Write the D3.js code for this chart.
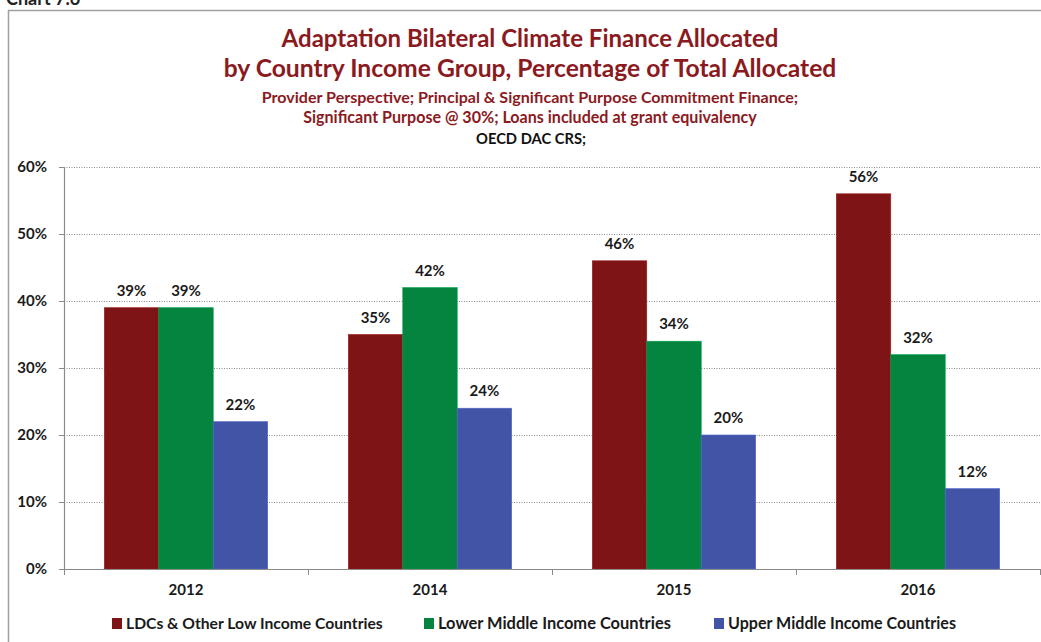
<!DOCTYPE html>
<html>
<head>
<meta charset="utf-8">
<script src="https://cdn.jsdelivr.net/npm/d3@7"></script>
<style>
  body { margin: 0; background: #fff; }
  svg { display: block; font-family: Lato, "Open Sans", sans-serif; }
</style>
</head>
<body>
<div id="chart"></div>
<script>
// Données du graphique
const years = ['2012', '2014', '2015', '2016'];
const seriesNames = ['LDCs & Other Low Income Countries', 'Lower Middle Income Countries', 'Upper Middle Income Countries'];
const ldcValues = [39, 35, 46, 56];
const lmicValues = [39, 42, 34, 32];
const umicValues = [22, 24, 20, 12];
const yTicks = [0, 10, 20, 30, 40, 50, 60];
const titleLines = [
    'Adaptation Bilateral Climate Finance Allocated',
    'by Country Income Group, Percentage of Total Allocated'
];
const subtitleLines = [
    'Provider Perspective; Principal & Significant Purpose Commitment Finance;',
    'Significant Purpose @ 30%; Loans included at grant equivalency'
];
const sourceLine = 'OECD DAC CRS;';

const colors = ['#7f1416', '#04843f', '#4254a5'];
const darkRed = '#8b1a1e';

const width = 1041, height = 642;
const margin = { top: 167, right: 1, bottom: 73, left: 64 };

const svg = d3.select('#chart').append('svg')
    .attr('width', width)
    .attr('height', height);

// Cadre extérieur
svg.append('path')
    .attr('d', `M8.5,${height} V10.5 H${width}`)
    .attr('fill', 'none')
    .attr('stroke', '#a0a0a0')
    .attr('stroke-width', 1.5);

// "Chart 7.6" coupé en haut, comme dans l'original
svg.append('text')
    .attr('x', 6).attr('y', 5)
    .attr('font-size', 18).attr('font-weight', 'bold')
    .attr('fill', '#222')
    .text('Chart 7.6');

// Fonction pour ajuster un texte à une largeur cible
function fitText(sel, target) {
    const w = sel.node().getComputedTextLength();
    const fs = parseFloat(sel.attr('font-size'));
    sel.attr('font-size', fs * target / w);
}

const cx = 530;
[[titleLines[0], 47, 497], [titleLines[1], 77, 613]].forEach(([t, y, w]) => {
    const s = svg.append('text')
        .attr('x', cx).attr('y', y)
        .attr('text-anchor', 'middle')
        .attr('font-size', 22).attr('font-weight', 'bold')
        .attr('fill', darkRed)
        .text(t);
    fitText(s, w);
});
[[subtitleLines[0], 103, 537], [subtitleLines[1], 123, 454]].forEach(([t, y, w]) => {
    const s = svg.append('text')
        .attr('x', cx).attr('y', y)
        .attr('text-anchor', 'middle')
        .attr('font-size', 13).attr('font-weight', 'bold')
        .attr('fill', darkRed)
        .text(t);
    fitText(s, w);
});
const src = svg.append('text')
    .attr('x', 531).attr('y', 144)
    .attr('text-anchor', 'middle')
    .attr('font-size', 13).attr('font-weight', 'bold')
    .attr('fill', '#111')
    .text(sourceLine);
fitText(src, 110);

// Échelles
const x0 = d3.scaleBand()
    .domain(years)
    .range([margin.left, width - margin.right])
    .padding(0);

const x1 = d3.scaleBand()
    .domain(d3.range(seriesNames.length))
    .range([0, x0.bandwidth()])
    .paddingInner(0)
    .paddingOuter(0.74);

const y = d3.scaleLinear()
    .domain([0, 60])
    .range([height - margin.bottom, margin.top]);

// Grille pointillée
svg.append('g')
    .selectAll('line')
    .data(yTicks.filter(d => d > 0))
    .enter()
    .append('line')
    .attr('x1', margin.left).attr('x2', width - margin.right)
    .attr('y1', d => Math.round(y(d)) + 0.5).attr('y2', d => Math.round(y(d)) + 0.5)
    .attr('stroke', '#8a8a8a')
    .attr('stroke-dasharray', '1,1.5');

// Barres
const table = years.map((yr, i) => ({
    year: yr,
    values: [ldcValues[i], lmicValues[i], umicValues[i]]
}));

const groups = svg.append('g')
    .selectAll('g')
    .data(table)
    .enter()
    .append('g')
    .attr('transform', d => `translate(${x0(d.year)},0)`);

groups.selectAll('rect')
    .data(d => d.values.map((v, k) => ({ k, v })))
    .enter()
    .append('rect')
    .attr('x', d => x1(d.k))
    .attr('y', d => y(d.v))
    .attr('width', x1.bandwidth())
    .attr('height', d => y(0) - y(d.v))
    .attr('fill', d => colors[d.k])
    .attr('stroke', d => d3.color(colors[d.k]).brighter(0.6))
    .attr('stroke-width', 0.6);

groups.selectAll('text')
    .data(d => d.values.map((v, k) => ({ k, v })))
    .enter()
    .append('text')
    .attr('x', d => x1(d.k) + x1.bandwidth() / 2)
    .attr('y', d => y(d.v) - 12)
    .attr('text-anchor', 'middle')
    .attr('font-size', 15).attr('font-weight', 'bold')
    .attr('fill', '#1a1a1a')
    .text(d => d.v + '%');

// Axe Y
const yAxis = svg.append('g')
    .attr('transform', `translate(${margin.left},0)`)
    .call(d3.axisLeft(y).tickValues(yTicks).tickFormat(d => d + '%').tickSize(5).tickPadding(12));
yAxis.select('.domain').attr('stroke', '#8a8a8a').attr('stroke-width', 1.2);
yAxis.selectAll('.tick line').attr('stroke', '#8a8a8a');
yAxis.selectAll('.tick text')
    .attr('font-size', 15).attr('font-weight', 'bold')
    .attr('font-family', 'Lato, sans-serif')
    .attr('fill', '#1a1a1a');

// Axe X
const xAxis = svg.append('g')
    .attr('transform', `translate(0,${y(0)})`)
    .call(d3.axisBottom(x0).tickSize(0).tickPadding(15));
xAxis.select('.domain').attr('stroke', '#8a8a8a').attr('stroke-width', 1.2);
xAxis.selectAll('.tick text')
    .attr('font-size', 15).attr('font-weight', 'bold')
    .attr('font-family', 'Lato, sans-serif')
    .attr('fill', '#1a1a1a');

// Graduations entre catégories
svg.append('g')
    .selectAll('line')
    .data(years.map(d => x0(d)).concat([width - margin.right]))
    .enter()
    .append('line')
    .attr('x1', d => Math.round(d) + 0.5).attr('x2', d => Math.round(d) + 0.5)
    .attr('y1', y(0)).attr('y2', y(0) + 6)
    .attr('stroke', '#8a8a8a');

// Légende
const legendX = [112, 424, 714];
const legendW = [257, 233, 228];
const legend = svg.append('g')
    .selectAll('g')
    .data(seriesNames)
    .enter()
    .append('g')
    .attr('transform', (d, i) => `translate(${legendX[i]},618)`);

legend.append('rect')
    .attr('width', 10).attr('height', 11)
    .attr('fill', (d, i) => colors[i]);

legend.append('text')
    .attr('x', 14).attr('y', 11)
    .attr('font-size', 14).attr('font-weight', 'bold')
    .attr('fill', '#1a1a1a')
    .text(d => d)
    .each(function(d, i) { fitText(d3.select(this), legendW[i]); });
</script>
</body>
</html>
